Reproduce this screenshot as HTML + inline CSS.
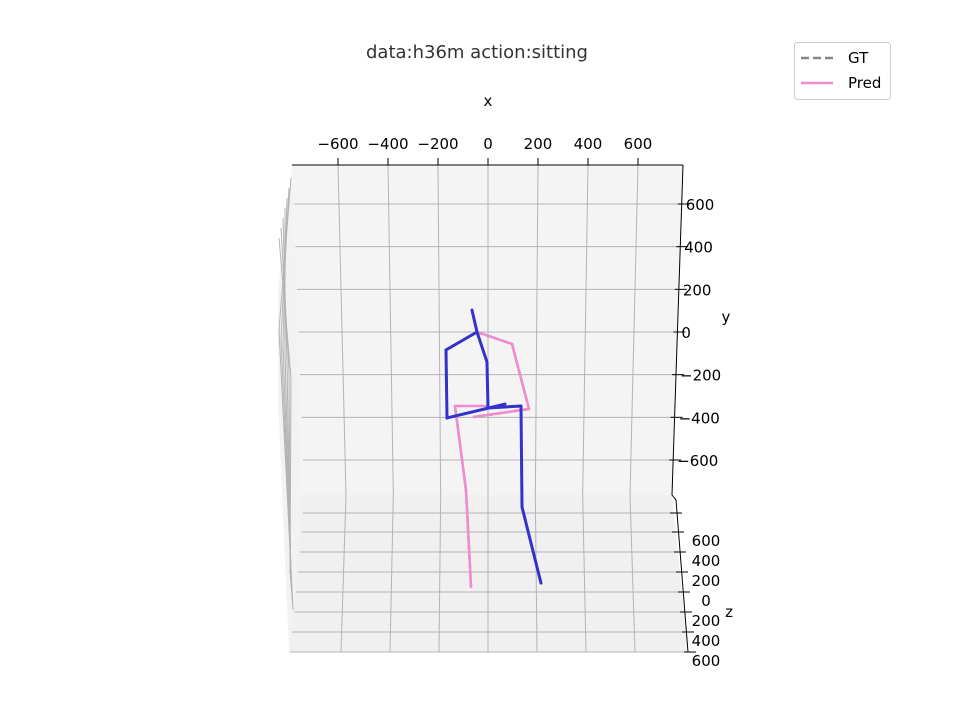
<!DOCTYPE html>
<html><head><meta charset="utf-8"><style>
body{margin:0;background:#fff;}
svg{display:block;font-family:"Liberation Sans","DejaVu Sans",sans-serif;}
</style></head><body>
<svg id="c" width="960" height="720" viewBox="0 0 960 720">
<text x="477" y="58" font-size="18" fill="#333" text-anchor="middle" font-family="DejaVu Sans, sans-serif">data:h36m action:sitting</text>
<g id="panes">
<polygon points="292,165 683,165 672,495 302,495" fill="#f4f4f4"/>
<polygon points="302,495 672,495 688,652 289,652" fill="#f0f0f0"/>
<polygon points="292,165 302,495 289,652 278,400 278,290" fill="#f2f2f2"/>
</g>
<g id="grid" stroke="#b3b3b3" stroke-width="1" fill="none"></g>
<g id="axes"></g>
<g id="bones"></g>
<g>
<rect x="794.5" y="42.5" width="96" height="57" rx="3" fill="#fff" stroke="#ccc"/>
<line x1="801" y1="58" x2="833" y2="58" stroke="#888" stroke-width="2.5" stroke-dasharray="8,4"/>
<text x="848" y="63" font-size="15" font-family="DejaVu Sans, sans-serif">GT</text>
<line x1="801" y1="83" x2="833" y2="83" stroke="#f08ccf" stroke-width="2.5"/>
<text x="848" y="88" font-size="15" font-family="DejaVu Sans, sans-serif">Pred</text>
</g>
</svg>
<script>
const xTicks=[-600,-400,-200,0,200,400,600];
const yTicks=[600,400,200,0,-200,-400,-600];
const zTicks=[600,400,200,0,200,400,600];
const gtJoints={head:[-64,103],neck:[-44,0],lsh:[-168,-84],lhand:[-164,-403],lend:[68,-338],spine:[-4,-141],pelvis:[0,-356],rhip:[132,-347],rknee:[136,-820],rankle:[212,-1177],rsh:[96,-56],relb:[164,-361],rhand:[-56,-398],lhip:[-132,-347],lknee:[-88,-741],lankle:[-68,-1195]};
const predJoints={head:[-64,103],neck:[-44,0],lsh:[-168,-84],lhand:[-164,-403],lend:[68,-338],spine:[-4,-141],pelvis:[0,-356],rhip:[132,-347],rknee:[136,-820],rankle:[212,-1177],rsh:[96,-56],relb:[164,-361],rhand:[-56,-398],lhip:[-132,-347],lhipc:[-4,-347],lknee:[-88,-741],lankle:[-68,-1195]};
const blueBones=[["head","neck"],["neck","lsh"],["lsh","lhand"],["lhand","lend"],["neck","spine"],["spine","pelvis"],["pelvis","rhip"],["rhip","rknee"],["rknee","rankle"]];
const pinkBones=[["neck","rsh"],["rsh","relb"],["relb","rhand"],["lhip","lhipc"],["lhip","lknee"],["lknee","lankle"]];
const sx=v=>488+v/4;
const sy=v=>332-v*128/600;
const NS="http://www.w3.org/2000/svg";
function mk(tag,parent,attrs){const e=document.createElementNS(NS,tag);for(const k in attrs)e.setAttribute(k,attrs[k]);parent.appendChild(e);return e;}
const grid=document.getElementById('grid'),axes=document.getElementById('axes'),bones=document.getElementById('bones');
for(let i=0;i<7;i++){const l=mk('polyline',grid,{points:`${291-i*2},${178+i*10} ${279+i*2},${330+i*8} ${293-i*0.5},${610-i*6}`});
}
xTicks.forEach(v=>{const x=sx(v);const l=mk('polyline',grid,{points:`${x},165 ${x+(v/600)*-8},495 ${x+(v/600)*-3},652`});

const t=mk('line',axes,{x1:x,y1:158,x2:x,y2:165,stroke:'#000'});
const tx=mk('text',axes,{x:x,y:149,'font-size':15,'text-anchor':'middle','font-family':'DejaVu Sans, sans-serif'});tx.textContent=(v<0?'\u2212'+(-v):v);
});
yTicks.forEach((v,i)=>{const y=sy(v);const lx=294+i*1.5,rx=683-(y-165)/30;
const l=mk('line',grid,{x1:lx,y1:y,x2:rx,y2:y});
const t=mk('line',axes,{x1:rx-4,y1:y,x2:rx+8,y2:y,stroke:'#000'});
const tx=mk('text',axes,{x:rx+4,y:y+6,'font-size':15,'font-family':'DejaVu Sans, sans-serif'});tx.textContent=(v<0?'\u2212'+(-v):v);
});
const t0=mk('line',axes,{x1:670,y1:513,x2:682,y2:513,stroke:'#000'});
mk('line',grid,{x1:303,y1:513,x2:674,y2:513});
zTicks.forEach((v,i)=>{const y=532+i*20;const rx=675+i*2;
const l=mk('line',grid,{x1:302-i*2,y1:y,x2:rx,y2:y});
const t=mk('line',axes,{x1:rx-3,y1:y,x2:rx+9,y2:y,stroke:'#000'});
const tx=mk('text',axes,{x:706,y:y+14,'font-size':15,'text-anchor':'middle','font-family':'DejaVu Sans, sans-serif'});tx.textContent=v;
});
[['M292,165 L683,165','x-axis-line'],['M683,165 L672,495 L676,500 L688,652','right-axis-line']].forEach(a=>{const p=mk('path',axes,{d:a[0],stroke:'#000',fill:'none'});});
[['x',488,106],['y',726,322],['z',729,617]].forEach(a=>{const t=mk('text',axes,{x:a[1],y:a[2],'font-size':15,'text-anchor':'middle','font-family':'DejaVu Sans, sans-serif'});t.textContent=a[0];});
function draw(b,J,color,dash,w,name){const a=J[b[0]],c=J[b[1]];const l=mk('line',bones,{x1:sx(a[0]),y1:sy(a[1]),x2:sx(c[0]),y2:sy(c[1]),stroke:color,'stroke-width':w,'stroke-linecap':'round'});if(dash)l.setAttribute('stroke-dasharray',dash);
}
blueBones.concat(pinkBones.filter(b=>gtJoints[b[0]]&&gtJoints[b[1]])).forEach(b=>draw(b,gtJoints,'#888','6,3',2.5,'gt-bone'));
pinkBones.forEach(b=>draw(b,predJoints,'#f08ccf',null,2.5,'pred-bone-right'));
blueBones.forEach(b=>draw(b,predJoints,'#3333cc',null,3,'pred-bone-left'));
</script>
</body></html>
